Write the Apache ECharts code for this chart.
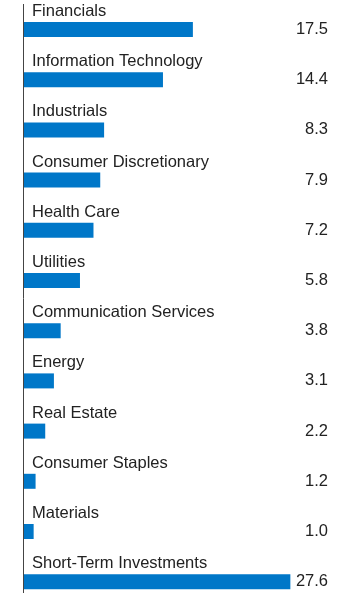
<!DOCTYPE html>
<html>
<head>
<meta charset="utf-8">
<script src="https://cdn.jsdelivr.net/npm/echarts@6/dist/echarts.min.js"></script>
<style>
  html, body { margin: 0; padding: 0; background: #fff; }
  #chart { width: 354px; height: 597px; }
</style>
</head>
<body>
<div id="chart"></div>
<script>
// sector weights, top to bottom
const sectors = [
  'Financials',
  'Information Technology',
  'Industrials',
  'Consumer Discretionary',
  'Health Care',
  'Utilities',
  'Communication Services',
  'Energy',
  'Real Estate',
  'Consumer Staples',
  'Materials',
  'Short-Term Investments'
];
const weights = [17.5, 14.4, 8.3, 7.9, 7.2, 5.8, 3.8, 3.1, 2.2, 1.2, 1.0, 27.6];
const valueLabels = weights.map(v => v.toFixed(1));

const chart = echarts.init(document.getElementById('chart'));

chart.setOption({
  animation: false,
  textStyle: { fontFamily: 'Liberation Sans, Arial, sans-serif' },
  grid: { left: 24, right: 26, top: 4.4, height: 602.4, outerBoundsMode: 'none' },
  xAxis: {
    type: 'value',
    min: 0,
    max: 31.5,
    show: false
  },
  yAxis: [
    {
      type: 'category',
      data: sectors,
      inverse: true,
      axisLine: { show: false },
      axisTick: { show: false },
      axisLabel: { show: false }
    },
    {
      type: 'category',
      data: valueLabels,
      inverse: true,
      position: 'right',
      axisLine: { show: false },
      axisTick: { show: false },
      axisLabel: {
        inside: true,
        margin: 0,
        color: '#222',
        fontSize: 16.5,
        padding: [6, 0, 0, 0]
      }
    }
  ],
  graphic: [{
    type: 'line',
    shape: { x1: 23.5, y1: 4, x2: 23.5, y2: 593 },
    style: { stroke: '#444', lineWidth: 1 }
  }],
  series: [{
    type: 'bar',
    data: weights,
    barWidth: 15,
    itemStyle: { color: '#0077c8' },
    label: {
      show: true,
      position: [8, -19],
      formatter: '{b}',
      color: '#222',
      fontSize: 16.5
    }
  }]
});
</script>
</body>
</html>
